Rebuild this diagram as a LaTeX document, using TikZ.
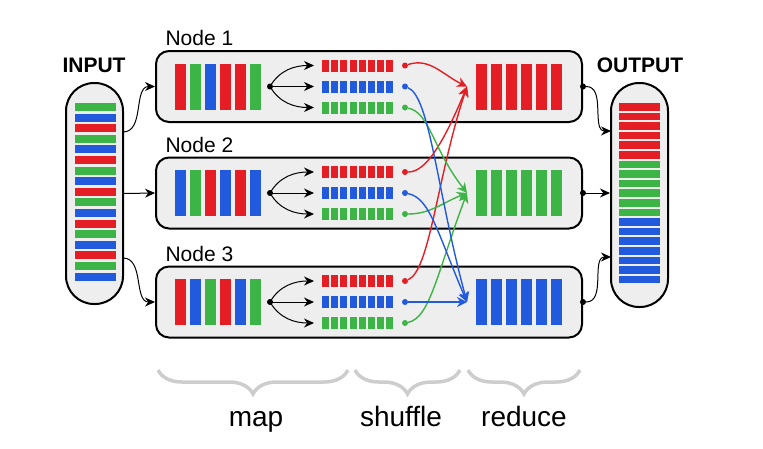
\documentclass[tikz,border=0pt]{standalone}
\usepackage{fontspec}
\setmainfont{Liberation Sans}
\usetikzlibrary{arrows.meta,decorations.pathreplacing}

\definecolor{cred}{RGB}{228,30,36}
\definecolor{cgreen}{RGB}{60,180,70}
\definecolor{cblue}{RGB}{34,90,222}
\definecolor{boxgray}{RGB}{238,238,238}
\definecolor{bracegray}{RGB}{205,205,205}

\tikzset{
  machine/.style={draw, line width=2pt, rounded corners=13pt, fill=boxgray,
    minimum width=426pt, minimum height=71pt, inner sep=0pt},
  pill/.style={draw, line width=2pt, rounded corners=28pt, fill=boxgray,
    minimum width=57pt, inner sep=0pt},
  dot/.style={circle, fill=black, inner sep=0pt, minimum size=6pt},
  sdot/.style={circle, inner sep=0pt, minimum size=6pt},
  arr/.style={-{Stealth[length=10pt,width=9pt]}, line width=1pt},
  flow/.style={-{Stealth[length=10pt,width=10pt]}, line width=1.4pt},
  lbl/.style={font=\fontsize{21}{25}\selectfont},
  head/.style={font=\bfseries\fontsize{21}{25}\selectfont, anchor=base},
  phase/.style={font=\fontsize{28}{32}\selectfont, anchor=base},
  brc/.style={decorate, decoration={brace,mirror,amplitude=24pt},
    line width=3.5pt, bracegray},
}

\begin{document}
\begin{tikzpicture}[x=1pt,y=-1pt]
\useasboundingbox (0,0) rectangle (763,448);

% Input
\node[pill, minimum height=221pt] (in) at (94.5,193.5) {};
\node[head] (inlabel) at (94,72) {INPUT};
\foreach \c [count=\i from 0] in {cgreen,cblue,cred,cgreen,cblue,cred,cgreen,cblue,cred,cgreen,cblue,cred,cgreen,cblue,cred,cgreen,cblue}
  \fill[\c] (75,103+10.6*\i) rectangle ++(41,8);

% Output
\node[pill, minimum height=224pt] (out) at (639.5,195) {};
\node[head] (outlabel) at (640,72) {OUTPUT};
\foreach \i in {0,...,5} \fill[cred] (619,103+9.6*\i) rectangle ++(41,7.5);
\foreach \i in {6,...,11} \fill[cgreen] (619,103+9.6*\i) rectangle ++(41,7.5);
\foreach \i in {12,...,18} \fill[cblue] (619,103+9.6*\i) rectangle ++(41,7.5);

% Nodes
\foreach \n/\y/\cols/\rc in {1/86.5/{cred,cgreen,cblue,cred,cred,cgreen}/cred,
    2/193/{cblue,cgreen,cred,cblue,cred,cblue}/cgreen,
    3/302/{cred,cblue,cgreen,cred,cblue,cgreen}/cblue}{
  \node[machine] (m\n) at (369,\y) {};
  \node[lbl, anchor=base west] (name\n) at (162,\y-41) {Node \n};
  % map input
  \foreach \c [count=\i from 0] in \cols
    \fill[\c] (175+15*\i,\y-23) rectangle ++(11,46);
  % reduce output
  \foreach \i in {0,...,5}
    \fill[\rc] (476+15*\i,\y-23) rectangle ++(11,46);
  % split
  \node[dot] (d\n) at (270,\y) {};
  \foreach \c/\dy in {cred/-21,cblue/0,cgreen/21}{
    \foreach \k in {0,...,7}
      \fill[\c] (322+9.2*\k,\y+\dy-6) rectangle ++(7,12);
    \coordinate (t\n-\c) at (314,\y+\dy);
    \node[sdot, fill=\c] (s\n-\c) at (405,\y+\dy) {};
  }
  \draw[arr] (d\n.center) to[out=60,in=180] (t\n-cred);
  \draw[arr] (d\n.center) -- (t\n-cblue);
  \draw[arr] (d\n.center) to[out=-60,in=180] (t\n-cgreen);
  \coordinate (r\n) at (467,\y);
  \node[dot] (o\n) at (m\n.east) {};
}

% Input to nodes
\coordinate (i1) at (123,132);
\coordinate (i3) at (123,258);
\draw[arr] (i1) to[out=0,in=180] (m1.west);
\draw[arr] (in.east) -- (m2.west);
\draw[arr] (i3) to[out=0,in=180] (m3.west);

% Nodes to output
\coordinate (q1) at (611,131);
\coordinate (q3) at (611,257);
\draw[arr] (o1) to[out=0,in=180] (q1);
\draw[arr] (o2) -- (out.west |- o2);
\draw[arr] (o3) to[out=0,in=180] (q3);

% Shuffle
\foreach \n/\c/\m/\a/\b in {1/cred/1/{25,-8}/{-25,-12}, 2/cred/1/{20,0}/{-25,60},
    3/cred/1/{25,-10}/{-30,90},
    1/cgreen/2/{25,5}/{-35,-45}, 2/cgreen/2/{25,0}/{-25,10},
    3/cgreen/2/{25,-5}/{-30,80},
    1/cblue/3/{25,10}/{-30,-110}, 2/cblue/3/{25,5}/{-30,-70},
    3/cblue/3/{20,0}/{-20,0}}
  \draw[flow,\c] (s\n-\c) .. controls +(\a) and +(\b) .. (r\m);

% Phases
\draw[brc] (158,370) -- (348,370);
\draw[brc] (355,370) -- (460,370);
\draw[brc] (468,370) -- (580,370);
\node[phase] (map) at (256,426) {map};
\node[phase] (shuffle) at (401,426) {shuffle};
\node[phase] (reduce) at (524,426) {reduce};
\end{tikzpicture}
\end{document}
